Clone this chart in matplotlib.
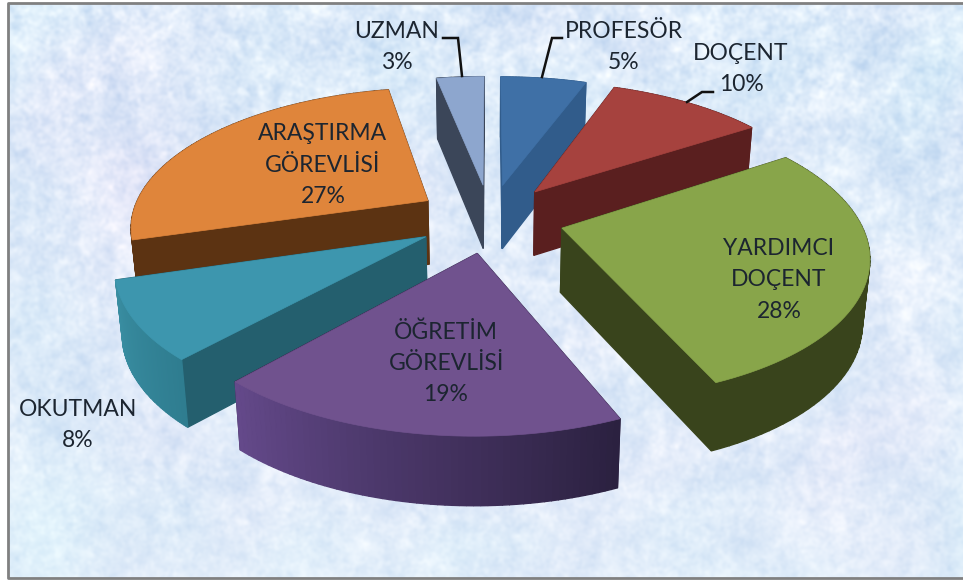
import numpy as np
import matplotlib
matplotlib.use("Agg")
import matplotlib.pyplot as plt
from matplotlib.colors import to_rgb
from matplotlib.patches import Polygon

names = ["PROFESÖR", "DOÇENT", "YARDIMCI\nDOÇENT", "ÖĞRETİM\nGÖREVLİSİ", "OKUTMAN", "ARAŞTIRMA\nGÖREVLİSİ", "UZMAN"]
percent_labels = ["5%", "10%", "28%", "19%", "8%", "27%", "3%"]
# shares, the labels are rounded
shares = [5.6, 10.2, 27.8, 18.1, 8.7, 26.5, 3.1]

top_colors = ["#3f70a6", "#a6423e", "#88a54a", "#70528e", "#3d96ae", "#df853b", "#8da6ce"]
side_colors = ["#315c8b", "#5a1f1f", "#39441c", "#2e2344", "#245f6e", "#5c3312", "#3b4659"]
arc_start_colors = ["#315c8b", "#5a1f1f", "#39441c", "#2b2140", "#2f7d90", "#5c3312", "#3b4659"]
arc_end_colors = ["#315c8b", "#5a1f1f", "#39441c", "#64498a", "#3a8fa3", "#5c3312", "#3b4659"]

label_pos = [(624, 47), (741, 69), (779, 280), (446, 363), (78, 425), (323, 165), (397, 47)]
leaders = [
    [(562, 38), (552, 38), (542, 77)],
    [(713, 92), (702, 92), (687, 102)],
    [(443, 38), (458, 38), (462, 76)],
]

# projection of the pie plane to the picture
cx, cy = 490, 218
rx, ry = 297, 137.5
persp = 0.172
explode = 0.25
converge = 0.98


def project(x, y):
    s = 1 / (1 - persp * y)
    return cx + x * rx * s, cy + y * ry * s


def wall(y):
    s = 1 / (1 - persp * y)
    return 43.6 + 20.4 * s


def low(px):
    return cx + (px - cx) * converge


def blur(a, sigma):
    fy = np.fft.fftfreq(a.shape[0])[:, None]
    fx = np.fft.rfftfreq(a.shape[1])[None, :]
    g = np.exp(-2 * (np.pi * sigma) ** 2 * (fx ** 2 + fy ** 2))
    b = np.fft.irfft2(np.fft.rfft2(a) * g, s=a.shape)
    return b / b.std()


def speckle(seed):
    # hashed pixel noise for the paper texture of the chart area
    yy, xx = np.mgrid[0:576, 0:955]
    v = np.sin(xx * 12.9898 + yy * 78.233 + seed) * 43758.5453
    return v - np.floor(v) - 0.5


def background():
    yy = np.mgrid[0:576, 0:955][0]
    n = speckle(0.0)
    tex = 0.55 * blur(n, 1.6) + 0.5 * blur(n, 5) + 0.35 * blur(n, 22)
    tint = blur(speckle(1.7), 30)
    base = np.array([0.885, 0.93, 0.98])
    amp = np.array([0.026, 0.018, 0.008])
    fade = (1 - yy / 576)[..., None]
    img = base + tex[..., None] * amp * (0.7 + 0.5 * fade)
    img = img - fade * np.array([0.03, 0.02, 0.006])
    img = img + tint[..., None] * np.array([0.008, -0.002, 0.0])
    return np.clip(img, 0, 1)


fig = plt.figure(figsize=(9.63, 5.8), dpi=100)
ax = fig.add_axes([0, 0, 1, 1])
plt.rcParams["font.family"] = ["Lato", "DejaVu Sans"]

ax.imshow(background(), extent=(8, 963, 578, 3), aspect="auto", zorder=0, interpolation="bilinear")
ax.plot([963, 8, 8, 963], [3, 3, 578, 578], color="#808080", lw=2, zorder=1)
ax.set_xlim(0, 963)
ax.set_ylim(580, 0)
ax.axis("off")

edges = np.cumsum([0] + shares) / sum(shares) * 2 * np.pi

slices = []
for i in range(len(shares)):
    mid = (edges[i] + edges[i + 1]) / 2
    ax0 = explode * np.sin(mid)
    ay0 = -explode * np.cos(mid)
    slices.append((ay0, ax0, i))
slices.sort()

z = 2
for ay0, ax0, i in slices:
    t = np.linspace(edges[i], edges[i + 1], 60)
    gx = ax0 + np.sin(t)
    gy = ay0 - np.cos(t)
    px, py = project(gx, gy)
    apx, apy = project(ax0, ay0)
    h = wall(gy)
    ah = wall(ay0)

    # wall pieces, back ones first
    pieces = []
    for ind in (0, -1):
        poly = [(apx, apy), (px[ind], py[ind]), (low(px[ind]), py[ind] + h[ind]), (low(apx), apy + ah)]
        pieces.append(((ay0 + gy[ind]) / 2, poly, side_colors[i]))
    c0 = np.array(to_rgb(arc_start_colors[i]))
    c1 = np.array(to_rgb(arc_end_colors[i]))
    for k in range(len(t) - 1):
        poly = [(px[k], py[k]), (px[k + 1], py[k + 1]),
                (low(px[k + 1]), py[k + 1] + h[k + 1]), (low(px[k]), py[k] + h[k])]
        col = c0 + (c1 - c0) * k / (len(t) - 2)
        pieces.append(((gy[k] + gy[k + 1]) / 2 + 0.02, poly, tuple(col)))
    pieces.sort(key=lambda p: p[0])
    for depth, poly, col in pieces:
        ax.add_patch(Polygon(poly, closed=True, facecolor=col, edgecolor=col, lw=1.0, zorder=z))
        z += 1

    face = [(apx, apy)] + list(zip(px, py))
    ax.add_patch(Polygon(face, closed=True, facecolor=top_colors[i], edgecolor=top_colors[i], lw=0.5, zorder=z))
    z += 1

for pts in leaders:
    xs, ys = zip(*pts)
    ax.plot(xs, ys, color="#111111", lw=1.8, zorder=z, solid_joinstyle="miter")

for name, pct, (lx, ly) in zip(names, percent_labels, label_pos):
    ax.text(lx, ly, name + "\n" + pct, ha="center", va="center", fontsize=16.5,
            color="#1c2530", linespacing=1.6, zorder=z + 1)

fig.savefig("out.png", dpi=100)
